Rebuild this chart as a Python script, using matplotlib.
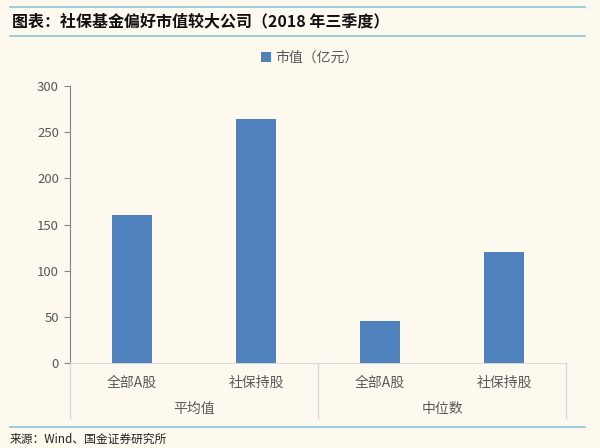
import matplotlib
matplotlib.use("Agg")
import matplotlib.pyplot as plt
from matplotlib.lines import Line2D

plt.rcParams['font.family'] = ['Noto Sans CJK SC', 'DejaVu Sans']

categories = ["全部A股", "社保持股", "全部A股", "社保持股"]
groups = ["平均值", "中位数"]
values = [160, 264, 45, 120]
series_name = "市值（亿元）"
title = "图表：社保基金偏好市值较大公司（2018 年三季度）"
source = "来源：Wind、国金证券研究所"

bg = "#FEF9EE"
bar_color = "#4F81BD"
txt_gray = "#595959"

fig = plt.figure(figsize=(6, 4.48), dpi=100, facecolor=bg)
ax = fig.add_axes([70/600, 1-363/448, (566-70)/600, (363-86)/448], facecolor=bg)

x = list(range(len(categories)))
ax.bar(x, values, width=0.315, color=bar_color, label=series_name, zorder=3)
ax.set_xlim(-0.5, len(categories)-0.5)
ax.set_ylim(0, 300)
ax.set_yticks(range(0, 301, 50))
ax.tick_params(axis='y', colors="#868686", labelcolor=txt_gray, labelsize=9.5, length=4, direction='out', pad=4)
ax.set_xticks([])
for s in ['top', 'right']:
    ax.spines[s].set_visible(False)
ax.spines['left'].set_color("#868686")
ax.spines['bottom'].set_color("#D9D9D9")

# category labels
for i, c in enumerate(categories):
    ax.text(i, -0.07, c, transform=ax.get_xaxis_transform(), ha='center', va='center',
            fontsize=10, color=txt_gray)
for g, gname in enumerate(groups):
    ax.text(2*g+0.5, -0.167, gname, transform=ax.get_xaxis_transform(), ha='center', va='center',
            fontsize=10, color=txt_gray)
# group separators
for xs in [-0.5, 1.5, 3.5]:
    ax.plot([xs, xs], [0, -0.2], transform=ax.get_xaxis_transform(), color="#D9D9D9",
            lw=1, clip_on=False)

leg = fig.legend(loc='center', bbox_to_anchor=(310/600, 1-58/448), frameon=False,
                 fontsize=10, handlelength=0.7, handleheight=0.7, handletextpad=0.3,
                 labelcolor=txt_gray)

# header / footer
line_c = "#8EC6D8"
fig.add_artist(Line2D([10/600, 585/600], [1-7/448, 1-7/448], color=line_c, lw=1.2))
fig.add_artist(Line2D([10/600, 585/600], [1-36/448, 1-36/448], color=line_c, lw=1.2))
fig.add_artist(Line2D([10/600, 585/600], [1-427/448, 1-427/448], color=line_c, lw=1.2))
fig.text(12/600, 1-21/448, title, ha='left', va='center', fontsize=11.5, fontweight='bold', color="#111111")
fig.text(10/600, 1-439/448, source, ha='left', va='center', fontsize=8.5, color="#222222")

fig.savefig("out.png", dpi=100, facecolor=bg)
